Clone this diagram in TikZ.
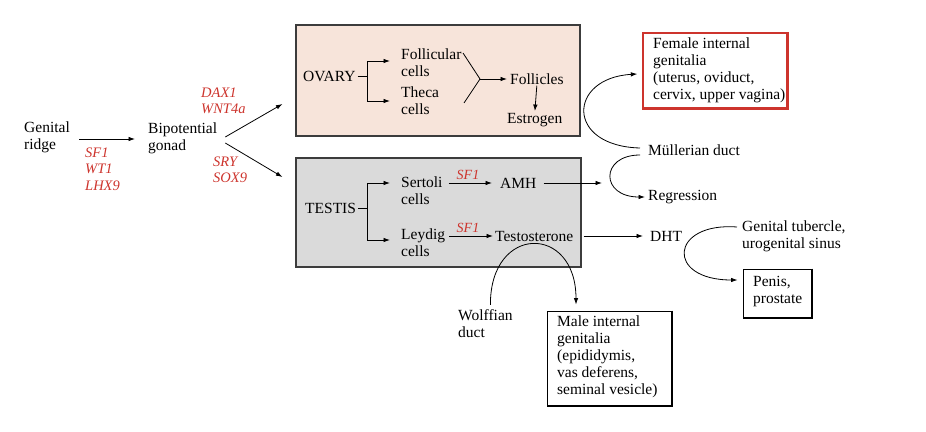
\documentclass[tikz,border=0pt]{standalone}
\usepackage{fontspec}
\setmainfont{Liberation Serif}
\usetikzlibrary{arrows.meta,calc}
\definecolor{genered}{RGB}{205,52,45}
\definecolor{ovfill}{RGB}{247,228,218}
\definecolor{tsfill}{RGB}{218,218,218}
\definecolor{boxline}{RGB}{60,60,60}
\begin{document}
\begin{tikzpicture}[x=1pt,y=-1pt,
  txt/.style={inner sep=0pt, anchor=west, align=left, font=\fontsize{15.5}{17}\selectfont},
  gene/.style={inner sep=0pt, anchor=west, align=left, text=genered, font=\fontsize{14.5}{16.5}\selectfont\itshape},
  sflab/.style={inner sep=0pt, text=genered, font=\fontsize{14}{16}\selectfont\itshape},
  arr/.style={-{Latex[length=6.5pt,width=4.5pt]}, line width=0.8pt},
  ln/.style={line width=0.8pt},
  panel/.style={draw=boxline, line width=1.1pt, inner sep=0pt},
  outbox/.style={draw=black, line width=0.9pt, fill=white, inner sep=0pt},
]
\useasboundingbox (0,0) rectangle (926,431);

% ---- panels
\node[panel, fill=ovfill, minimum width=284pt, minimum height=111pt] (ovbox) at (438,80.5) {};
\node[panel, fill=tsfill, minimum width=285pt, minimum height=109pt] (tsbox) at (438.5,212.5) {};

% ---- left part
\node[txt] (ridge) at (24,137) {Genital\\ridge};
\node[gene] (g1) at (85,169) {SF1\\WT1\\LHX9};
\node[txt] (gonad) at (148,138) {Bipotential\\gonad};
\node[gene] (g2) at (201,101) {DAX1\\WNT4a};
\node[gene] (g3) at (213,170) {SRY\\SOX9};

\draw[arr, shorten >=13pt] ([xshift=9pt,yshift=-2pt]ridge.east) -- ([yshift=-1pt]gonad.west);
\draw[arr] ([xshift=8pt,yshift=1pt]gonad.east) -- ([xshift=-13pt,yshift=-23.5pt]ovbox.west);
\draw[arr] ([xshift=8pt,yshift=-5pt]gonad.east) -- ([xshift=-13pt,yshift=35.5pt]tsbox.west);

% ---- ovary
\node[txt] (ovary) at (303,76) {OVARY};
\node[txt] (fol) at (401,63) {Follicular\\cells};
\node[txt] (theca) at (401,101) {Theca\\cells};
\node[txt] (follicles) at (510,79) {Follicles};
\node[txt] (estrogen) at (507,120) {Estrogen};
\coordinate (ob) at (367,76);
\draw[ln] ([xshift=2pt]ovary.east) -- (ob);
\draw[arr] (ob) |- ([xshift=-11pt,yshift=2pt]fol.west);
\draw[arr] (ob) |- ([xshift=-11pt]theca.west);
\coordinate (fa) at (463,53);
\coordinate (fb) at (464,103);
\coordinate (fj) at (480,79);
\draw[ln] (fa) -- (fj) -- (fb);
\draw[arr] (fj) -- ([xshift=-3pt]follicles.west);
\draw[arr, shorten <=1pt, shorten >=2pt] (follicles.south) -- (estrogen.north);

% ---- testis
\node[txt] (testis) at (305,208) {TESTIS};
\node[txt] (ser) at (401,191) {Sertoli\\cells};
\node[txt] (ley) at (401,243) {Leydig\\cells};
\node[txt] (amh) at (500,183) {AMH};
\node[txt] (testo) at (495,236) {Testosterone};
\coordinate (tb) at (367,208);
\draw[ln] ([xshift=2pt]testis.east) -- (tb);
\draw[arr] (tb) |- ([xshift=-11pt,yshift=8pt]ser.west);
\draw[arr] (tb) |- ([xshift=-11pt,yshift=3pt]ley.west);
\draw[arr] ([xshift=6pt,yshift=8pt]ser.east) -- ([xshift=-8pt]amh.west);
\node[sflab] (sf1a) at (468,175) {SF1};
\draw[arr] ([xshift=4pt,yshift=7pt]ley.east) -- ([xshift=-2pt]testo.west);
\node[sflab] (sf1b) at (468,228) {SF1};
\coordinate (amhend) at (602,183);
\draw[arr] ([xshift=7pt]amh.east) -- (amhend);

% ---- female side
\node[draw=genered, line width=1.3pt, fill=white, minimum width=144pt, minimum height=75pt, inner sep=0pt] (fembox) at (715,70.5) {};
\draw[genered, line width=1.8pt] (fembox.north east) -- (fembox.south east);
\draw[genered, line width=2.6pt] ([xshift=0.9pt]fembox.south east) -- (fembox.south west);
\node[txt] (fem) at (653,70) {Female internal\\genitalia\\(uterus, oviduct,\\cervix, upper vagina)};
\node[txt] (mul) at (648,150) {Müllerian duct};
\node[txt] (reg) at (648,197) {Regression};
\draw[arr] ([xshift=-8pt,yshift=2pt]mul.west) .. controls (565,146) and (568,78) .. ([xshift=-5pt,yshift=-3.5pt]fembox.west);
\draw[arr] ([xshift=-8pt,yshift=-5pt]mul.west) .. controls (600,155) and (600,197) .. ([xshift=-3pt]reg.west);

% ---- male side
\node[outbox, minimum width=125pt, minimum height=95pt] (malebox) at (609.5,358.5) {};
\draw[line width=2pt] (malebox.north east) -- (malebox.south east) -- (malebox.south west);
\node[txt] (male) at (557,357) {Male internal\\genitalia\\(epididymis,\\vas deferens,\\seminal vesicle)};
\node[txt] (wolf) at (458,324) {Wolffian\\duct};
\draw[arr] ([xshift=5pt,yshift=5pt]wolf.north) .. controls (490,224) and (576,224) .. ([xshift=-33.5pt,yshift=6pt]malebox.north);

% ---- DHT
\node[txt] (dht) at (650,236) {DHT};
\draw[arr] ([xshift=10pt]testo.east) -- ([xshift=-7pt]dht.west);
\node[txt] (gt) at (742,236) {Genital tubercle,\\urogenital sinus};
\node[outbox, minimum width=69pt, minimum height=49pt] (penbox) at (777.5,293.5) {};
\draw[line width=2pt] (penbox.north east) -- (penbox.south east) -- (penbox.south west);
\node[txt] (pen) at (753,291.5) {Penis,\\prostate};
\draw[arr] ([xshift=-5pt,yshift=9pt]gt.west) .. controls (670,222) and (665,280) .. ([xshift=-5pt,yshift=13.5pt]penbox.west);
\end{tikzpicture}
\end{document}
